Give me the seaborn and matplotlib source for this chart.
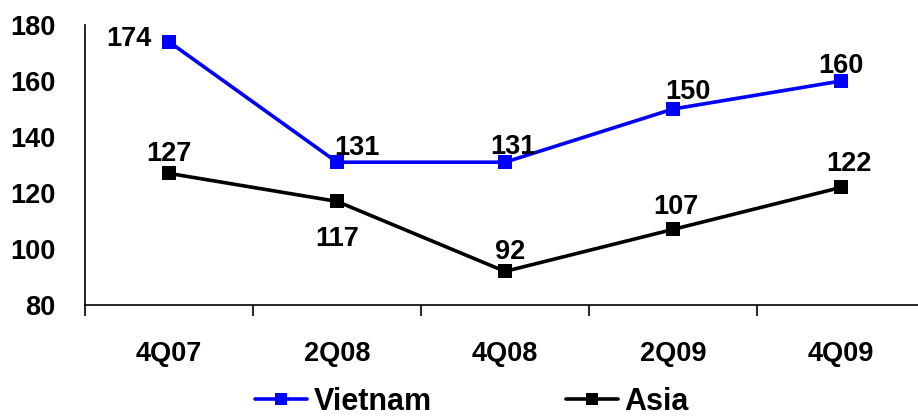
import matplotlib
matplotlib.use("Agg")
import matplotlib.pyplot as plt
import seaborn as sns
import pandas as pd
from matplotlib.ticker import FixedLocator
from matplotlib.lines import Line2D

quarters = ["4Q07", "2Q08", "4Q08", "2Q09", "4Q09"]
vietnam = [174, 131, 131, 150, 160]
asia = [127, 117, 92, 107, 122]
series_names = ["Vietnam", "Asia"]
colors = ["#0000FF", "#000000"]
y_ticks = [80, 100, 120, 140, 160, 180]

sns.set_theme(style="white")
plt.rcParams["font.family"] = ["Liberation Sans", "DejaVu Sans"]
plt.rcParams["font.weight"] = "bold"
plt.rcParams["text.color"] = "black"
plt.rcParams["xtick.color"] = "black"
plt.rcParams["ytick.color"] = "black"

FS = 19.5

df = pd.DataFrame({
    "quarter": quarters * 2,
    "pos": list(range(len(quarters))) * 2,
    "value": vietnam + asia,
    "series": [series_names[0]] * len(quarters) + [series_names[1]] * len(quarters),
})

fig = plt.figure(figsize=(9.18, 4.17), dpi=100)
W, H = 918, 417
ax = fig.add_axes([85 / W, (H - 305) / H, 840 / W, 280 / H])

sns.lineplot(data=df, x="pos", y="value", hue="series", palette=colors,
             marker="s", markersize=10, markeredgewidth=0, linewidth=2.6,
             ax=ax, legend=False)

ax.set_xlim(-0.5, 4.5)
ax.set_ylim(80, 180)
ax.set_yticks(y_ticks)
ax.set_yticklabels([str(v) for v in y_ticks], fontsize=FS, fontweight="bold", color="black")
ax.set_xticks(range(len(quarters)))
ax.set_xticklabels(quarters, fontsize=FS, fontweight="bold", color="black")
ax.xaxis.set_minor_locator(FixedLocator([i - 0.5 for i in range(len(quarters) + 1)]))
ax.tick_params(axis="x", which="major", bottom=False, length=0, pad=26)
ax.tick_params(axis="x", which="minor", bottom=True, length=8, width=1.2,
               direction="out", color="black")
ax.tick_params(axis="y", left=False, length=0, pad=21)
ax.set_xlabel("")
ax.set_ylabel("")
for side in ["top", "right"]:
    ax.spines[side].set_visible(False)
for side in ["left", "bottom"]:
    ax.spines[side].set_color("black")
    ax.spines[side].set_linewidth(1.2)

# value labels: offsets in points (dx, dy)
viet_offsets = [(-29, 2), (14, 10), (6, 11), (11, 12), (0, 11)]
asia_offsets = [(0, 14), (0, -27), (4, 14), (2, 16), (6, 17)]
for vals, offs in [(vietnam, viet_offsets), (asia, asia_offsets)]:
    for i, (v, (dx, dy)) in enumerate(zip(vals, offs)):
        ax.annotate(str(v), (i, v), xytext=(dx, dy), textcoords="offset points",
                    ha="center", va="center", fontsize=FS, fontweight="bold",
                    color="black")

# legend along the bottom
handles = [Line2D([0], [0], color=c, lw=2.6, marker="s", markersize=8,
                  markeredgewidth=0) for c in colors]
leg = fig.legend(handles, series_names, loc="center",
                 bbox_to_anchor=(472 / W, 1 - 402 / H),
                 ncol=2, frameon=False, columnspacing=4.4, handlelength=1.7,
                 handletextpad=0.2, borderpad=0.0,
                 prop={"weight": "bold", "size": 22})
for t in leg.get_texts():
    t.set_color("black")

fig.savefig("out.png", dpi=100)
